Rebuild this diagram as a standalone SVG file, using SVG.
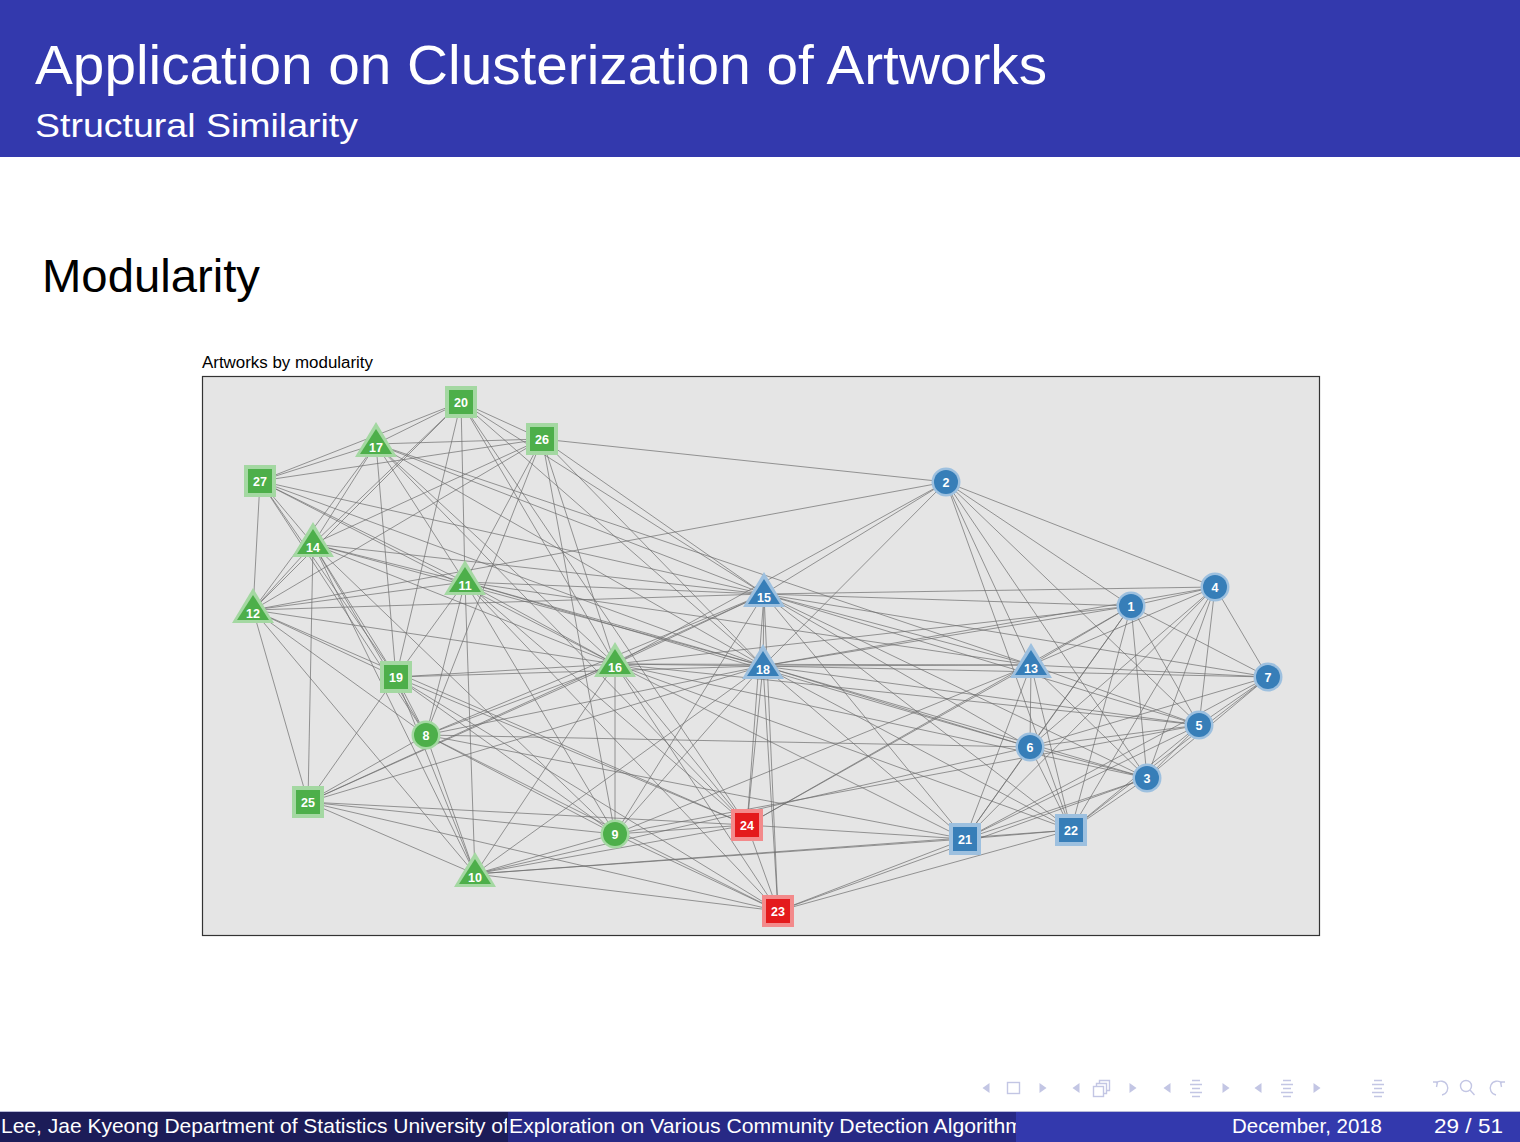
<svg xmlns="http://www.w3.org/2000/svg" xmlns:xlink="http://www.w3.org/1999/xlink" width="1520" height="1142" viewBox="0 0 1520 1142">
  <style>
    .sans{font-family:"Liberation Sans",Arial,sans-serif}
    .edges path{fill:none;stroke:#6c6c6c;stroke-width:0.85;stroke-opacity:0.82}
    .g-o{fill:#A4D8A2}.g-i{fill:#4DAF4A}
    .b-o{fill:#9DC0DF}.b-i{fill:#377EB8}
    .r-o{fill:#F38A8B}.r-i{fill:#E41A1C}
    .lbl{font-family:"Liberation Sans",Arial,sans-serif;font-weight:bold;font-size:12.5px;fill:#fff;text-anchor:middle}
    .nav{fill:#C3C6E4;stroke:none}
    .navs{fill:none;stroke:#C3C6E4;stroke-width:1.4}
    .foot{font-family:"Liberation Sans",Arial,sans-serif;font-size:21px;fill:#fff}
  </style>
  <defs>
    <rect id="sqO" x="-16" y="-16" width="32" height="32"/>
    <rect id="sqI" x="-12" y="-12" width="24" height="24"/>
    <circle id="ciO" r="14.5"/>
    <circle id="ciI" r="12"/>
    <polygon id="trO" points="0,-22 21,13 -21,13"/>
    <polygon id="trI" points="0,-15 16,10 -16,10"/>
    <polygon id="navL" points="-3.5,0 3.5,-5 3.5,5"/>
    <polygon id="navR" points="3.5,0 -3.5,-5 -3.5,5"/>
    <path id="navList" d="M-4 -7.5H4M-6 -3.5H6M-4 0.5H4M-6 4.5H6M-4 8.5H4"/>
    <clipPath id="clipAuthor"><rect x="0" y="1112" width="507" height="30"/></clipPath>
    <clipPath id="clipTitle"><rect x="508" y="1112" width="508" height="30"/></clipPath>
  </defs>

  <!-- page -->
  <rect width="1520" height="1142" fill="#fff"/>

  <!-- frame title bar -->
  <rect x="0" y="0" width="1520" height="157" fill="#3339AD"/>
  <text class="sans" x="35" y="84" font-size="56" fill="#fff" textLength="1012" lengthAdjust="spacingAndGlyphs">Application on Clusterization of Artworks</text>
  <text class="sans" x="35" y="137" font-size="33" fill="#fff" textLength="323" lengthAdjust="spacingAndGlyphs">Structural Similarity</text>

  <!-- block heading -->
  <text class="sans" x="42" y="292" font-size="47" fill="#000" textLength="218" lengthAdjust="spacingAndGlyphs">Modularity</text>

  <!-- plot panel -->
  <text class="sans" x="202" y="368" font-size="16" fill="#000" textLength="171" lengthAdjust="spacingAndGlyphs">Artworks by modularity</text>
  <rect x="202.5" y="376.5" width="1117" height="559" fill="#E5E5E5" stroke="#333" stroke-width="1.2"/>

  <!-- network edges -->
  <g id="edges" class="edges">
    <path d="M461 402L376 444M461 402L260 481M461 402L542 439M461 402L313 544M461 402L253 610M461 402L465 582M461 402L396 677M461 402L615 664M461 402L764 594M461 402L763 666M461 402L747 825"/>
    <path d="M542 439L376 444M542 439L260 481M542 439L313 544M542 439L253 610M542 439L465 582M542 439L426 735M542 439L615 664M542 439L946 482M542 439L764 594M542 439L763 666M542 439L615 834"/>
    <path d="M376 444L260 481M376 444L313 544M376 444L253 610M376 444L465 582M376 444L396 677M376 444L615 664M376 444L764 594M376 444L763 666M376 444L747 825M376 444L1031 665"/>
    <path d="M260 481L313 544M260 481L253 610M260 481L465 582M260 481L396 677M260 481L615 664M260 481L764 594M260 481L763 666M260 481L426 735"/>
    <path d="M313 544L253 610M313 544L465 582M313 544L396 677M313 544L426 735M313 544L308 802M313 544L615 664M313 544L763 666M313 544L764 594M313 544L475 874M313 544L615 834"/>
    <path d="M465 582L253 610M465 582L396 677M465 582L426 735M465 582L475 874M465 582L615 664M465 582L764 594M465 582L763 666M465 582L615 834M465 582L747 825M465 582L1030 747M465 582L1031 665M465 582L778 911"/>
    <path d="M253 610L396 677M253 610L426 735M253 610L308 802M253 610L615 664M253 610L764 594M253 610L946 482M253 610L475 874M253 610L747 825"/>
    <path d="M396 677L426 735M396 677L308 802M396 677L615 664M396 677L763 666M396 677L615 834M396 677L475 874M396 677L747 825M396 677L778 911"/>
    <path d="M615 664L426 735M615 664L308 802M615 664L615 834M615 664L475 874M615 664L764 594M615 664L763 666M615 664L946 482M615 664L1031 665M615 664L965 839M615 664L1071 830M615 664L747 825M615 664L778 911M615 664L1199 725M615 664L1147 778M615 664L1131 606"/>
    <path d="M426 735L308 802M426 735L475 874M426 735L764 594M426 735L763 666M426 735L615 834M426 735L1030 747M426 735L778 911M426 735L965 839"/>
    <path d="M308 802L475 874M308 802L615 834M308 802L764 594M308 802L763 666M308 802L747 825M308 802L778 911"/>
    <path d="M615 834L475 874M615 834L747 825M615 834L778 911M615 834L764 594M615 834L763 666M615 834L1031 665M615 834L1199 725"/>
    <path d="M475 874L747 825M475 874L778 911M475 874L763 666M475 874L965 839M475 874L1030 747M475 874L1071 830"/>
    <path d="M747 825L763 666M747 825L778 911M747 825L965 839M747 825L1031 665M747 825L764 594M747 825L1131 606"/>
    <path d="M778 911L763 666M778 911L965 839M778 911L1071 830M778 911L1147 778M778 911L764 594"/>
    <path d="M764 594L763 666M764 594L946 482M764 594L1131 606M764 594L1215 587M764 594L1031 665M764 594L1268 677M764 594L1199 725M764 594L1030 747M764 594L1147 778M764 594L965 839M764 594L1071 830"/>
    <path d="M763 666L1031 665M763 666L1131 606M763 666L1215 587M763 666L1268 677M763 666L1199 725M763 666L1030 747M763 666L1147 778M763 666L965 839M763 666L1071 830M763 666L946 482"/>
    <path d="M946 482L1215 587M946 482L1131 606M946 482L1031 665M946 482L1199 725M946 482L1147 778M946 482L1071 830"/>
    <path d="M1131 606L1215 587M1131 606L1031 665M1131 606L1268 677M1131 606L1199 725M1131 606L1030 747M1131 606L1147 778M1131 606L965 839M1131 606L1071 830"/>
    <path d="M1215 587L1031 665M1215 587L1268 677M1215 587L1199 725M1215 587L1030 747M1215 587L1147 778M1215 587L965 839M1215 587L1071 830"/>
    <path d="M1031 665L1268 677M1031 665L1199 725M1031 665L1030 747M1031 665L1147 778M1031 665L965 839M1031 665L1071 830"/>
    <path d="M1268 677L1199 725M1268 677L1030 747M1268 677L1147 778M1268 677L965 839M1268 677L1071 830"/>
    <path d="M1199 725L1030 747M1199 725L1147 778M1199 725L965 839M1199 725L1071 830"/>
    <path d="M1030 747L1147 778M1030 747L965 839M1030 747L1071 830"/>
    <path d="M1147 778L965 839M1147 778L1071 830M965 839L1071 830"/>
  </g>

  <!-- green community -->
  <g id="n20"><use xlink:href="#sqO" x="461" y="402" class="g-o"/><use xlink:href="#sqI" x="461" y="402" class="g-i"/><text class="lbl" x="461" y="406.5">20</text></g>
  <g id="n26"><use xlink:href="#sqO" x="542" y="439" class="g-o"/><use xlink:href="#sqI" x="542" y="439" class="g-i"/><text class="lbl" x="542" y="443.5">26</text></g>
  <g id="n27"><use xlink:href="#sqO" x="260" y="481" class="g-o"/><use xlink:href="#sqI" x="260" y="481" class="g-i"/><text class="lbl" x="260" y="485.5">27</text></g>
  <g id="n19"><use xlink:href="#sqO" x="396" y="677" class="g-o"/><use xlink:href="#sqI" x="396" y="677" class="g-i"/><text class="lbl" x="396" y="681.5">19</text></g>
  <g id="n25"><use xlink:href="#sqO" x="308" y="802" class="g-o"/><use xlink:href="#sqI" x="308" y="802" class="g-i"/><text class="lbl" x="308" y="806.5">25</text></g>
  <g id="n17"><use xlink:href="#trO" x="376" y="444" class="g-o"/><use xlink:href="#trI" x="376" y="444" class="g-i"/><text class="lbl" x="376" y="451.5">17</text></g>
  <g id="n14"><use xlink:href="#trO" x="313" y="544" class="g-o"/><use xlink:href="#trI" x="313" y="544" class="g-i"/><text class="lbl" x="313" y="551.5">14</text></g>
  <g id="n11"><use xlink:href="#trO" x="465" y="582" class="g-o"/><use xlink:href="#trI" x="465" y="582" class="g-i"/><text class="lbl" x="465" y="589.5">11</text></g>
  <g id="n12"><use xlink:href="#trO" x="253" y="610" class="g-o"/><use xlink:href="#trI" x="253" y="610" class="g-i"/><text class="lbl" x="253" y="617.5">12</text></g>
  <g id="n16"><use xlink:href="#trO" x="615" y="664" class="g-o"/><use xlink:href="#trI" x="615" y="664" class="g-i"/><text class="lbl" x="615" y="671.5">16</text></g>
  <g id="n10"><use xlink:href="#trO" x="475" y="874" class="g-o"/><use xlink:href="#trI" x="475" y="874" class="g-i"/><text class="lbl" x="475" y="881.5">10</text></g>
  <g id="n8"><use xlink:href="#ciO" x="426" y="735" class="g-o"/><use xlink:href="#ciI" x="426" y="735" class="g-i"/><text class="lbl" x="426" y="739.5">8</text></g>
  <g id="n9"><use xlink:href="#ciO" x="615" y="834" class="g-o"/><use xlink:href="#ciI" x="615" y="834" class="g-i"/><text class="lbl" x="615" y="838.5">9</text></g>

  <!-- red community -->
  <g id="n24"><use xlink:href="#sqO" x="747" y="825" class="r-o"/><use xlink:href="#sqI" x="747" y="825" class="r-i"/><text class="lbl" x="747" y="829.5">24</text></g>
  <g id="n23"><use xlink:href="#sqO" x="778" y="911" class="r-o"/><use xlink:href="#sqI" x="778" y="911" class="r-i"/><text class="lbl" x="778" y="915.5">23</text></g>

  <!-- blue community -->
  <g id="n15"><use xlink:href="#trO" x="764" y="594" class="b-o"/><use xlink:href="#trI" x="764" y="594" class="b-i"/><text class="lbl" x="764" y="601.5">15</text></g>
  <g id="n18"><use xlink:href="#trO" x="763" y="666" class="b-o"/><use xlink:href="#trI" x="763" y="666" class="b-i"/><text class="lbl" x="763" y="673.5">18</text></g>
  <g id="n13"><use xlink:href="#trO" x="1031" y="665" class="b-o"/><use xlink:href="#trI" x="1031" y="665" class="b-i"/><text class="lbl" x="1031" y="672.5">13</text></g>
  <g id="n2"><use xlink:href="#ciO" x="946" y="482" class="b-o"/><use xlink:href="#ciI" x="946" y="482" class="b-i"/><text class="lbl" x="946" y="486.5">2</text></g>
  <g id="n1"><use xlink:href="#ciO" x="1131" y="606" class="b-o"/><use xlink:href="#ciI" x="1131" y="606" class="b-i"/><text class="lbl" x="1131" y="610.5">1</text></g>
  <g id="n4"><use xlink:href="#ciO" x="1215" y="587" class="b-o"/><use xlink:href="#ciI" x="1215" y="587" class="b-i"/><text class="lbl" x="1215" y="591.5">4</text></g>
  <g id="n7"><use xlink:href="#ciO" x="1268" y="677" class="b-o"/><use xlink:href="#ciI" x="1268" y="677" class="b-i"/><text class="lbl" x="1268" y="681.5">7</text></g>
  <g id="n5"><use xlink:href="#ciO" x="1199" y="725" class="b-o"/><use xlink:href="#ciI" x="1199" y="725" class="b-i"/><text class="lbl" x="1199" y="729.5">5</text></g>
  <g id="n6"><use xlink:href="#ciO" x="1030" y="747" class="b-o"/><use xlink:href="#ciI" x="1030" y="747" class="b-i"/><text class="lbl" x="1030" y="751.5">6</text></g>
  <g id="n3"><use xlink:href="#ciO" x="1147" y="778" class="b-o"/><use xlink:href="#ciI" x="1147" y="778" class="b-i"/><text class="lbl" x="1147" y="782.5">3</text></g>
  <g id="n21"><use xlink:href="#sqO" x="965" y="839" class="b-o"/><use xlink:href="#sqI" x="965" y="839" class="b-i"/><text class="lbl" x="965" y="843.5">21</text></g>
  <g id="n22"><use xlink:href="#sqO" x="1071" y="830" class="b-o"/><use xlink:href="#sqI" x="1071" y="830" class="b-i"/><text class="lbl" x="1071" y="834.5">22</text></g>

  <!-- navigation symbols -->
  <g id="navigation">
    <use xlink:href="#navL" x="986" y="1088" class="nav"/>
    <rect class="navs" x="1007.5" y="1082.5" width="12" height="11"/>
    <use xlink:href="#navR" x="1043" y="1088" class="nav"/>
    <use xlink:href="#navL" x="1076" y="1088" class="nav"/>
    <rect class="navs" x="1093.5" y="1086.5" width="10" height="10"/>
    <path class="navs" d="M1096.5 1086.5V1083.5H1106.5V1093.5H1103.5M1099.5 1083.5V1080.5H1109.5V1090.5H1106.5"/>
    <use xlink:href="#navR" x="1133" y="1088" class="nav"/>
    <use xlink:href="#navL" x="1167" y="1088" class="nav"/>
    <use xlink:href="#navList" x="1196" y="1088" class="navs"/>
    <use xlink:href="#navR" x="1226" y="1088" class="nav"/>
    <use xlink:href="#navL" x="1258" y="1088" class="nav"/>
    <use xlink:href="#navList" x="1287" y="1088" class="navs"/>
    <use xlink:href="#navR" x="1317" y="1088" class="nav"/>
    <use xlink:href="#navList" x="1378" y="1088" class="navs"/>
    <path class="navs" d="M1436 1083A7 7 0 1 1 1442 1095M1433 1082L1437.5 1082L1436.5 1087"/>
    <circle class="navs" cx="1466" cy="1086" r="5.5"/>
    <path class="navs" d="M1470 1090L1474.5 1095"/>
    <path class="navs" d="M1502 1083A7 7 0 1 0 1496 1095M1505 1082L1500.5 1082L1501.5 1087"/>
  </g>

  <!-- footline -->
  <g id="footline">
    <rect x="0" y="1111" width="1520" height="1" fill="#B8BAD8"/>
    <rect x="0" y="1112" width="508" height="30" fill="#1C1C58"/>
    <rect x="508" y="1112" width="508" height="30" fill="#272985"/>
    <rect x="1016" y="1112" width="504" height="30" fill="#3339AD"/>
    <text class="foot" x="1" y="1133" clip-path="url(#clipAuthor)">Lee, Jae Kyeong Department of Statistics University of</text>
    <text class="foot" x="509" y="1133" clip-path="url(#clipTitle)" textLength="514" lengthAdjust="spacingAndGlyphs">Exploration on Various Community Detection Algorithm</text>
    <text class="foot" x="1232" y="1133" textLength="150" lengthAdjust="spacingAndGlyphs">December, 2018</text>
    <text class="foot" x="1434" y="1133" textLength="69" lengthAdjust="spacingAndGlyphs">29 / 51</text>
  </g>
</svg>
